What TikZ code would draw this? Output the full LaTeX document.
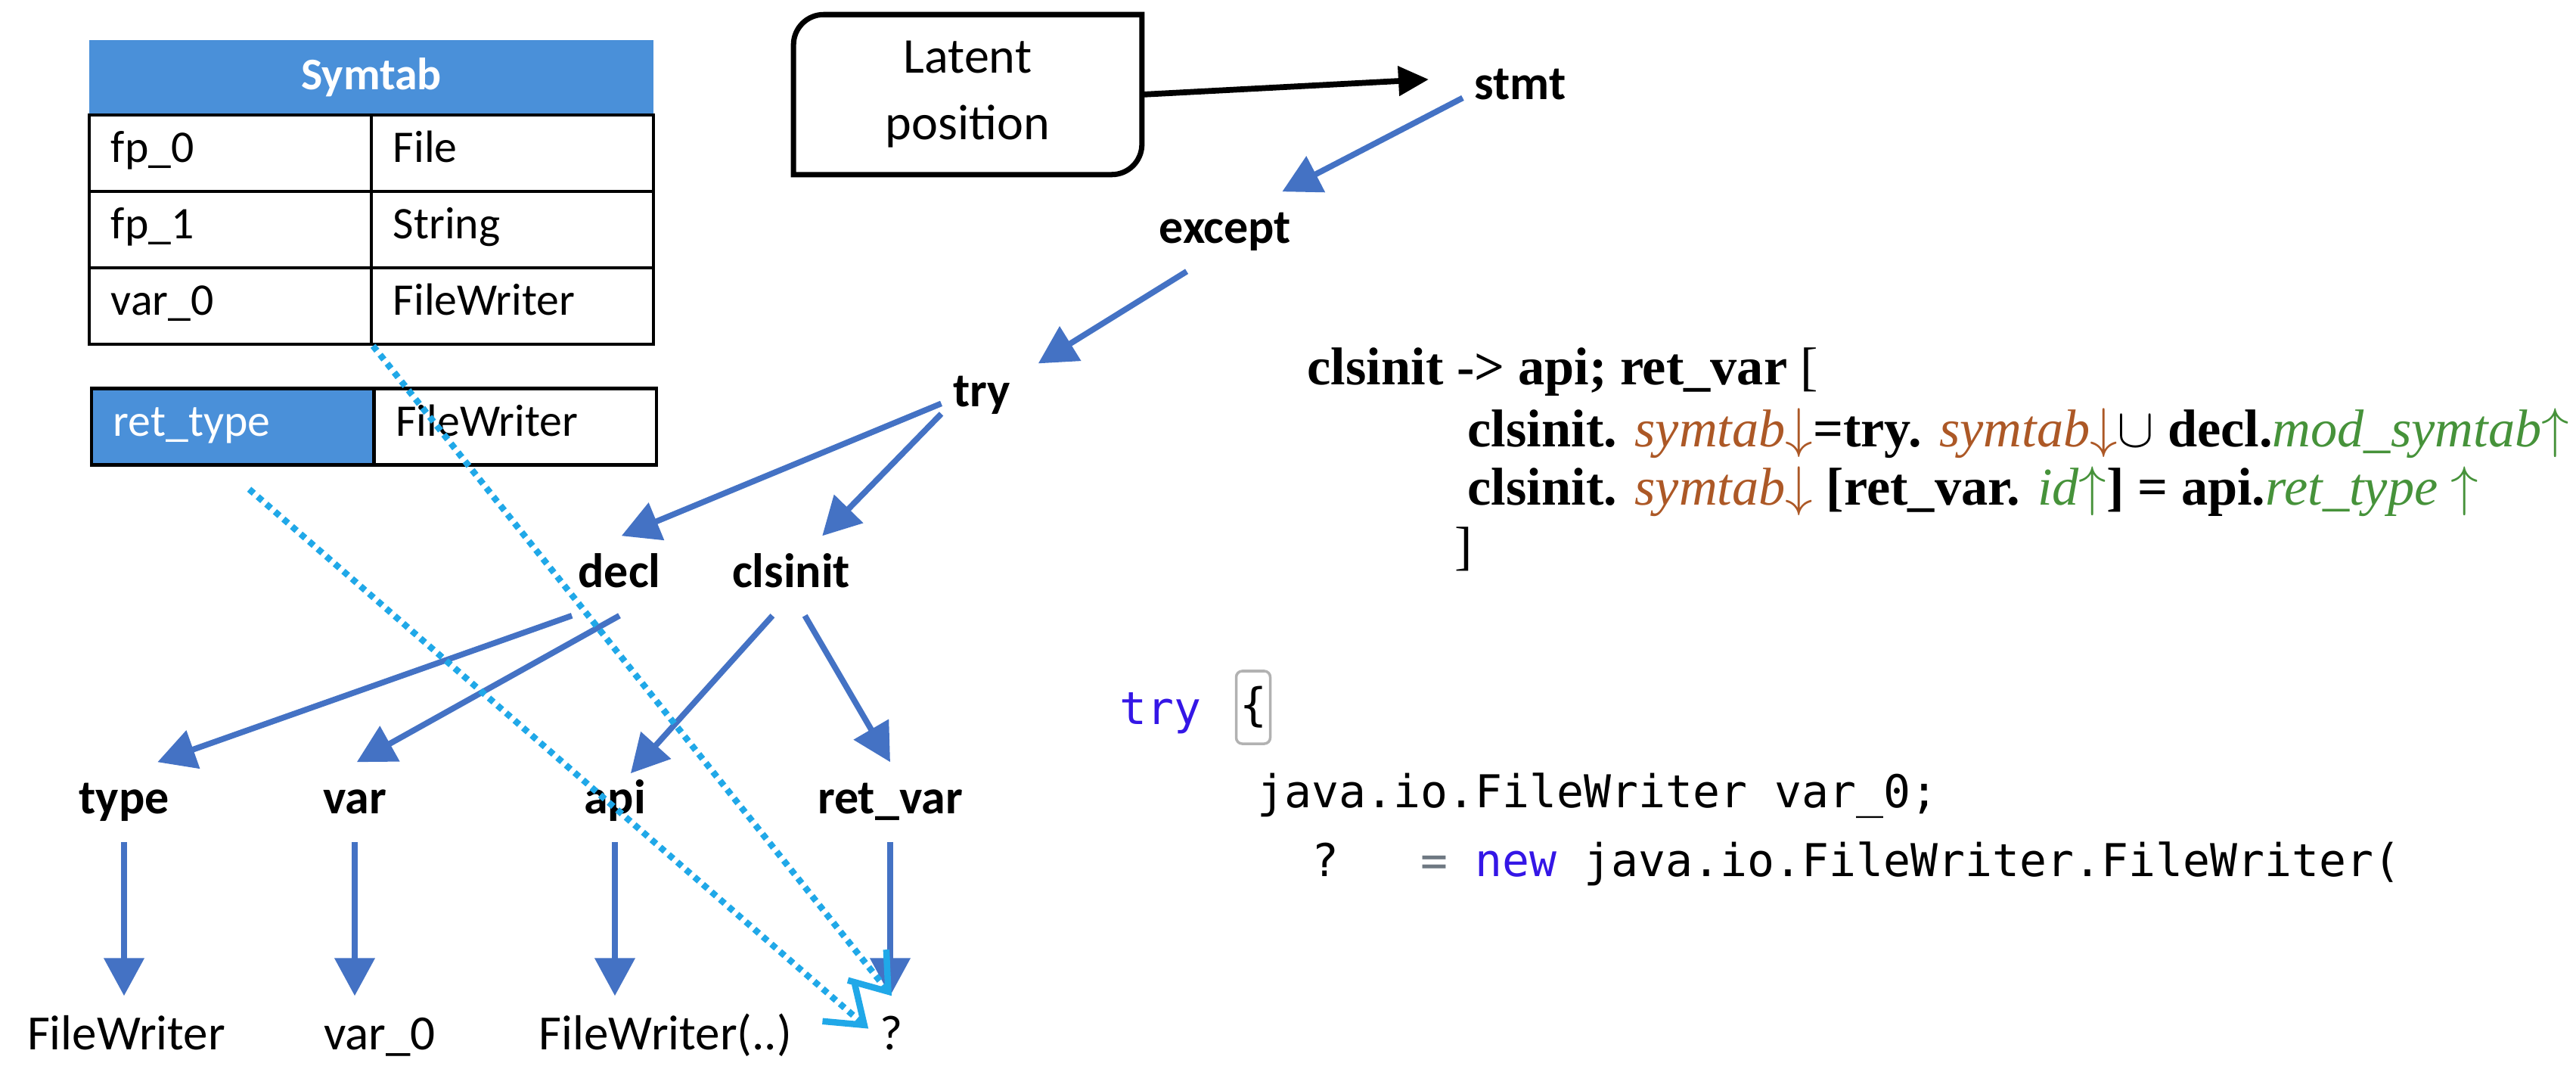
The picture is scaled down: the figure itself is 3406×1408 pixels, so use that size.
\documentclass[tikz,border=0pt]{standalone}
\usepackage{fontspec}
\setmainfont{Carlito}
\newfontfamily\rulefont{Liberation Serif}
\newfontfamily\codefont{DejaVu Sans Mono}
\usetikzlibrary{arrows.meta}
\usetikzlibrary{positioning}

\definecolor{treeblue}{RGB}{68,114,196}
\definecolor{hdrblue}{RGB}{74,144,217}
\definecolor{dotcyan}{RGB}{32,168,232}
\definecolor{attrbrown}{RGB}{172,88,38}
\definecolor{attrgreen}{RGB}{70,146,58}
\definecolor{kwblue}{RGB}{52,22,230}
\definecolor{opgrey}{RGB}{110,120,130}

\tikzset{
    lbl/.style={font=\fontsize{18.2}{22}\selectfont\bfseries, inner xsep=0.15cm, inner ysep=0.25cm, text height=0.42cm, text depth=0.12cm},
    leaf/.style={font=\fontsize{18.5}{22}\selectfont, inner xsep=0.15cm, inner ysep=0.28cm, text height=0.42cm, text depth=0.12cm},
    cell/.style={draw, line width=1.2pt, text width=3.15cm, inner xsep=0.29cm, minimum height=1.01cm, align=left, text height=0.36cm, text depth=0.12cm, font=\fontsize{17}{20}\selectfont},
    hdr/.style={fill=hdrblue, text=white, minimum width=7.46cm, minimum height=0.99cm, font=\fontsize{17}{20}\selectfont\bfseries},
    tree/.style={treeblue, line width=2.2pt, -{Triangle[length=0.5cm,width=0.52cm]}},
    link/.style={dotcyan, line width=2.4pt, dash pattern=on 0.08cm off 0.07cm, -{Straight Barb[length=0.45cm,width=0.65cm]}},
    rule/.style={font=\rulefont\fontsize{20}{24}\selectfont, anchor=base west, inner sep=0, text height=0.5cm, text depth=0.15cm},
    code/.style={font=\codefont\fontsize{17}{20}\selectfont, anchor=base west, inner sep=0},
}

\begin{document}
\begin{tikzpicture}[x=0.01cm, y=-0.01cm]
    \useasboundingbox (0,0) rectangle (3406,1408);

    % symbol table
    \draw (491,102.5) node[hdr] (symtab) {Symtab};
    \foreach \key/\val [count=\row] in {fp\_0/File, fp\_1/String, var\_0/FileWriter}{
        \draw (304.5,{101*\row+101.5}) node[cell] (key\row) {\key};
        \draw (677.5,{101*\row+101.5}) node[cell] (val\row) {\val};
    }
    \draw (307.5,564) node[cell, fill=hdrblue, text=white] (rtkey) {ret\_type};
    \draw (681,564) node[cell] (rtval) {FileWriter};

    % latent position box
    \draw (1279.5,125) node[minimum width=4.59cm, minimum height=2.1cm, align=center, font=\fontsize{18.8}{25}\selectfont] (latent) {Latent\\position};
    \draw[line width=2pt] (latent.east) [rounded corners=0.4cm] -- (latent.south east) -- (latent.south) [sharp corners] -- (latent.south west) -- (latent.west) [rounded corners=0.4cm] -- (latent.north west) -- (latent.north) [sharp corners] -- (latent.north east) -- cycle;

    % tree
    \draw (2010,116) node[lbl] (stmt) {stmt};
    \draw (1620,306) node[lbl] (except) {except};
    \draw (1298,522) node[lbl] (try) {try};
    \draw (819,761) node[lbl] (decl) {decl};
    \draw (1046,761) node[lbl] (clsinit) {clsinit};
    \foreach \nm/\x/\txt in {type/164/type, var/469/var, api/813/api, retvar/1177/ret\_var}
        \draw (\x,1060) node[lbl] (\nm) {\txt};
    \foreach \nm/\x/\txt in {fw/167/FileWriter, varz/502/var\_0, fwcall/880/FileWriter(..), q/1179/?}
        \draw (\x,1372) node[leaf] (\nm) {\txt};

    \draw[-{Triangle[length=0.4cm,width=0.38cm]}, line width=2.2pt, shorten >=0.45cm] (latent.east) -- (stmt.170);
    \draw[tree] (stmt.190) -- (except.35);
    \draw[tree, shorten >=0.25cm] (except.226) -- (try.28);
    \draw[tree] (try.192) -- (decl.87);
    \draw[tree] (try.205) -- (clsinit.52);
    \draw[tree] (decl.220) -- (type.50);
    \draw[tree] (decl.270) -- (var.87);
    \draw[tree, shorten >=-0.2cm] (clsinit.245) -- (api.57);
    \draw[tree] (clsinit.289) -- (retvar.north);
    \foreach \up/\down in {type/fw, var/varz, api/fwcall, retvar/q}
        \draw[tree] (\up.south) -- (\up.south |- \down.north);

    % lookups into the tables
    \coordinate[below right=0.3cm and 0.22cm of rtkey.south] (rtfoot);
    \draw[link] (key3.south east) -- (q.north);
    \draw[link] (rtfoot) -- (q.158);

    % attribute rule
    \draw (1728,508) node[rule] (r1) {\textbf{clsinit -> api; ret\_var} [};
    \draw (1940,590) node[rule] (r2) {\textbf{clsinit.} \textcolor{attrbrown}{\textit{symtab}$\downarrow$}\textbf{=try.} \textcolor{attrbrown}{\textit{symtab}$\downarrow$}$\cup$ \textbf{decl.}\textcolor{attrgreen}{\textit{mod\_symtab}$\uparrow$}};
    \draw (1940,667) node[rule] (r3) {\textbf{clsinit.} \textcolor{attrbrown}{\textit{symtab}$\downarrow$} \textbf{[ret\_var.} \textcolor{attrgreen}{\textit{id}$\uparrow$}\textbf{] = api.}\textcolor{attrgreen}{\textit{ret\_type} $\uparrow$}};
    \draw (1923,745) node[rule] (r4) {]};

    % generated code
    \draw (1480,957) node[code, text=kwblue] (kwtry) {try};
    \draw (1657,935) node[draw=gray!60, line width=1pt, rounded corners=0.08cm, minimum width=0.45cm, minimum height=0.96cm, inner sep=0, font=\codefont\fontsize{17}{20}\selectfont] (brace) {\{};
    \draw (1662,1067) node[code] (c1) {java.io.FileWriter var\_0;};
    \draw (1662,1158) node[code] (c2) {~~?~~~\textcolor{opgrey}{=}~\textcolor{kwblue}{new}~java.io.FileWriter.FileWriter(};
\end{tikzpicture}
\end{document}
